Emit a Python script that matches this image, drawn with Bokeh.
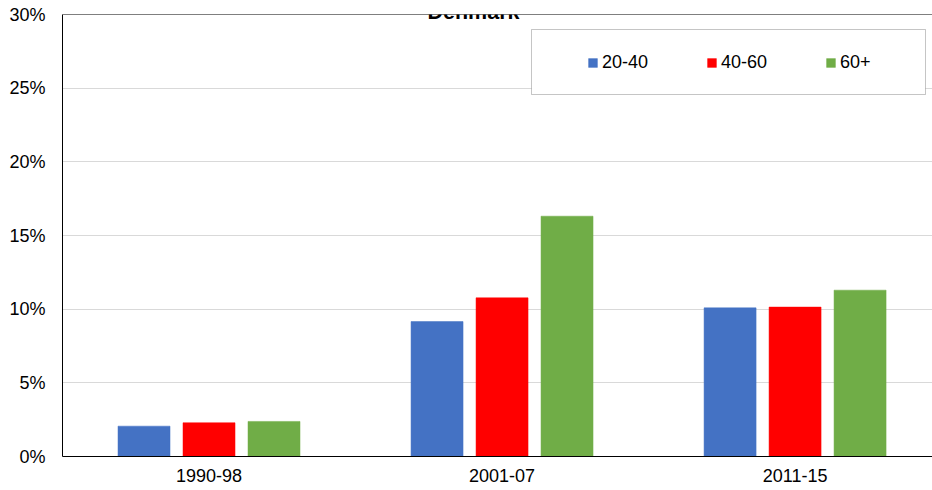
from bokeh.plotting import figure
from bokeh.models import (Range1d, FixedTicker, PrintfTickFormatter, Legend, LegendItem,
                          BoxAnnotation, Label, Span, ColumnDataSource)
from bokeh.transform import dodge
from bokeh.embed import file_html
from bokeh.resources import INLINE

# ---- data ----
categories = ["1990-98", "2001-07", "2011-15"]
series_names = ["20-40", "40-60", "60+"]
age_20_40 = [2.06, 9.16, 10.09]
age_40_60 = [2.29, 10.77, 10.14]
age_60_plus = [2.38, 16.31, 11.29]
y_ticks = [0, 5, 10, 15, 20, 25, 30]
title_text = "Denmark"

FONT = "Liberation Sans"
colors = ["#4472C4", "#FF0000", "#70AD47"]

x_pos = [i + 0.5 for i in range(len(categories))]
source = ColumnDataSource(dict(x=x_pos, cat=categories,
                               a=age_20_40, b=age_40_60, c=age_60_plus))

p = figure(width=932, height=490, output_backend="svg", toolbar_location=None,
           x_range=Range1d(0, 2.969), y_range=Range1d(0, 30),
           min_border_left=62, min_border_right=0, min_border_top=14, min_border_bottom=34)
p.outline_line_color = None
p.background_fill_color = "white"
p.border_fill_color = "white"

bar_w = 0.1775
offsets = [-0.2218, 0.0, 0.2218]
renderers = []
for col, off, colr in zip(["a", "b", "c"], offsets, colors):
    r = p.vbar(x=dodge("x", off, range=p.x_range), top=col, width=bar_w, bottom=0,
               source=source, fill_color=colr, line_color=colr, line_width=0.5)
    renderers.append(r)

# grid / axes
p.xgrid.visible = False
p.ygrid.grid_line_color = "#D9D9D9"
p.ygrid.grid_line_width = 1

p.yaxis.ticker = FixedTicker(ticks=y_ticks)
p.yaxis.formatter = PrintfTickFormatter(format="%d%%")
p.yaxis.major_tick_line_color = None
p.yaxis.minor_tick_line_color = None
p.yaxis.major_tick_out = 0
p.yaxis.major_tick_in = 0
p.yaxis.axis_line_color = "black"
p.yaxis.axis_line_width = 1
p.yaxis.major_label_standoff = 17
p.yaxis.major_label_text_font = FONT
p.yaxis.major_label_text_font_size = "18px"
p.yaxis.major_label_text_color = "black"

p.xaxis.ticker = FixedTicker(ticks=x_pos)
p.xaxis.major_label_overrides = {x: c for x, c in zip(x_pos, categories)}
p.xaxis.major_tick_line_color = None
p.xaxis.minor_tick_line_color = None
p.xaxis.major_tick_out = 0
p.xaxis.major_tick_in = 0
p.xaxis.axis_line_color = "black"
p.xaxis.axis_line_width = 1
p.xaxis.major_label_standoff = 12
p.xaxis.major_label_text_font = FONT
p.xaxis.major_label_text_font_size = "18px"
p.xaxis.major_label_text_color = "black"

# top border line
p.add_layout(Span(location=30, dimension="width", line_color="black", line_width=1))

# legend frame
box = BoxAnnotation(left=469, right=863, top=427, bottom=362,
                    left_units="screen", right_units="screen",
                    top_units="screen", bottom_units="screen",
                    fill_color="white", fill_alpha=1.0,
                    line_color="#404040", line_width=1)
p.add_layout(box)

legend = Legend(items=[LegendItem(label=n, renderers=[r]) for n, r in zip(series_names, renderers)],
                orientation="horizontal", location=(525, 383),
                glyph_width=11, glyph_height=11, label_standoff=4, spacing=58,
                padding=0, margin=0, border_line_color=None, background_fill_alpha=0,
                label_text_font=FONT, label_text_font_size="18px", label_text_color="black")
p.add_layout(legend, "center")

title = Label(x=411, y=445, x_units="screen", y_units="screen", text=title_text,
              text_font=FONT, text_font_style="bold", text_font_size="21.5px",
              text_align="center", text_baseline="alphabetic", text_color="black")
p.add_layout(title)

open("out.html", "w").write(file_html(p, INLINE))
